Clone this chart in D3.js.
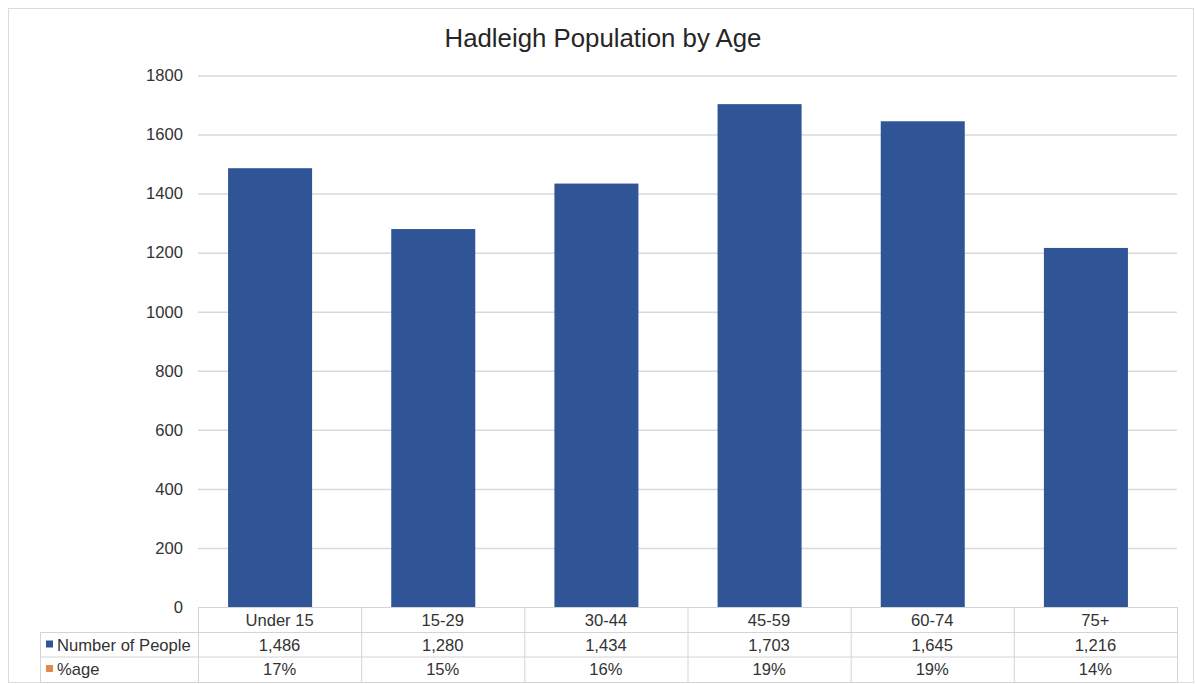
<!DOCTYPE html>
<html>
<head>
<meta charset="utf-8">
<script src="https://cdn.jsdelivr.net/npm/d3@7"></script>
<style>
  html, body { margin: 0; padding: 0; background: #fff; }
  svg { display: block; font-family: "Liberation Sans", Arial, sans-serif; }
</style>
</head>
<body>
<svg id="chart" width="1195" height="684"></svg>
<script>
const categories = ["Under 15", "15-29", "30-44", "45-59", "60-74", "75+"];
const people = [1486, 1280, 1434, 1703, 1645, 1216];
const percentLabels = ["17%", "15%", "16%", "19%", "19%", "14%"];
const yTicks = [0, 200, 400, 600, 800, 1000, 1200, 1400, 1600, 1800];
const seriesNames = ["Number of People", "%age"];
const seriesColors = ["#2F5597", "#E08A52"];
const title = "Hadleigh Population by Age";

const svg = d3.select("#chart");
const plot = { left: 198, right: 1177, top: 75.5, bottom: 607 };
const barShift = -9.5;
const fs = 16.6;

// outer chart border
svg.append("rect")
  .attr("x", 8.5).attr("y", 8.5)
  .attr("width", 1185).attr("height", 674)
  .attr("fill", "#fff").attr("stroke", "#dcdcdc").attr("stroke-width", 1);

// title
svg.append("text")
  .attr("x", 603).attr("y", 46.5)
  .attr("text-anchor", "middle")
  .attr("font-size", 25.8)
  .attr("fill", "#262626")
  .text(title);

const y = d3.scaleLinear().domain([0, 1800]).range([plot.bottom, plot.top]);
const xCol = d3.scaleBand().domain(categories).range([plot.left, plot.right]);
const xBar = d3.scaleBand().domain(categories)
  .range([plot.left + barShift, plot.right + barShift])
  .paddingInner(0.485).paddingOuter(0.2425);

// gridlines + y labels via axis
const yAxis = d3.axisLeft(y).tickValues(yTicks).tickFormat(d3.format("d"))
  .tickSize(-(plot.right - plot.left)).tickPadding(15);
const gy = svg.append("g").attr("transform", `translate(${plot.left},0)`).call(yAxis);
gy.select(".domain").remove();
gy.selectAll(".tick line").attr("stroke", "#d9d9d9").attr("stroke-width", 1.5);
gy.selectAll(".tick text").attr("font-size", fs).attr("fill", "#333")
  .attr("font-family", "'Liberation Sans', Arial, sans-serif");
gy.selectAll(".tick").filter(d => d === 0).select("line").remove();

// bars
svg.append("g").selectAll("rect").data(categories).join("rect")
  .attr("x", d => xBar(d))
  .attr("width", xBar.bandwidth())
  .attr("y", (d, i) => y(people[i]))
  .attr("height", (d, i) => y(0) - y(people[i]))
  .attr("fill", seriesColors[0]);

// data table
const rowTop = [607, 632, 656.5];
const rowBottom = 682;
const legendLeft = 40;
const grid = svg.append("g").attr("stroke", "#d4d4d4").attr("stroke-width", 1).attr("fill", "none");
grid.append("line").attr("x1", plot.left).attr("x2", plot.right).attr("y1", rowTop[0] + 0.5).attr("y2", rowTop[0] + 0.5);
[rowTop[1], rowTop[2], rowBottom].forEach(yy => {
  grid.append("line").attr("x1", legendLeft).attr("x2", plot.right).attr("y1", yy + 0.5).attr("y2", yy + 0.5);
});
grid.append("line").attr("x1", legendLeft + 0.5).attr("x2", legendLeft + 0.5).attr("y1", rowTop[1]).attr("y2", rowBottom);
categories.forEach(c => {
  grid.append("line").attr("x1", xCol(c) + 0.5).attr("x2", xCol(c) + 0.5).attr("y1", rowTop[0]).attr("y2", rowBottom);
});
grid.append("line").attr("x1", plot.right + 0.5).attr("x2", plot.right + 0.5).attr("y1", rowTop[0]).attr("y2", rowBottom);

const txt = svg.append("g").attr("font-size", fs).attr("fill", "#333").attr("text-anchor", "middle");
const cx = d => xCol(d) + xCol.bandwidth() / 2;
txt.selectAll("text.cat").data(categories).join("text").attr("class", "cat")
  .attr("x", cx).attr("y", 626).text(d => d);
txt.selectAll("text.num").data(categories).join("text").attr("class", "num")
  .attr("x", cx).attr("y", 650.5).text((d, i) => d3.format(",")(people[i]));
txt.selectAll("text.pct").data(categories).join("text").attr("class", "pct")
  .attr("x", cx).attr("y", 675).text((d, i) => percentLabels[i]);

// legend keys in the table
const legY = [650.5, 675];
seriesNames.forEach((name, i) => {
  svg.append("rect").attr("x", 46).attr("y", legY[i] - 10).attr("width", 7).attr("height", 7)
    .attr("fill", seriesColors[i]);
  svg.append("text").attr("x", 57).attr("y", legY[i]).attr("font-size", fs).attr("fill", "#333")
    .text(name);
});
</script>
</body>
</html>
